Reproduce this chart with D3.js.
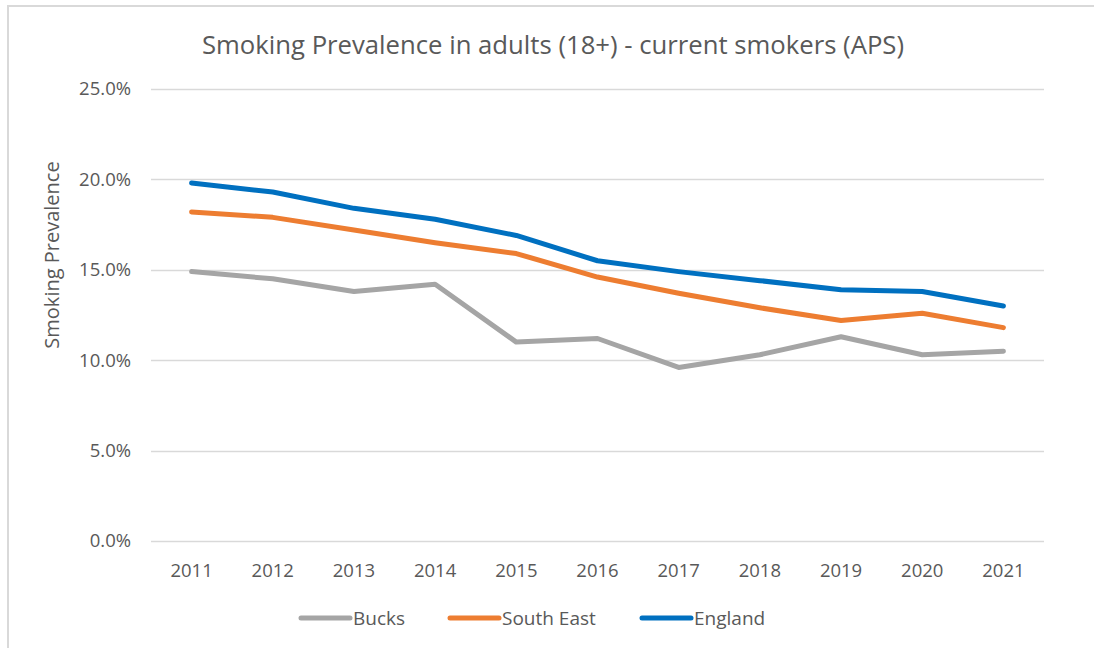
<!DOCTYPE html>
<html>
<head>
<meta charset="utf-8">
<script src="https://cdn.jsdelivr.net/npm/d3@7"></script>
<style>
  html, body { margin: 0; padding: 0; background: #fff; }
  svg { display: block; }
  text { font-family: "Open Sans", "Noto Sans", sans-serif; fill: #595959; }
</style>
</head>
<body>
<svg id="chart" width="1094" height="648"></svg>
<script>
// Smoking prevalence (%) among adults, Annual Population Survey
const years = ["2011","2012","2013","2014","2015","2016","2017","2018","2019","2020","2021"];
const bucks     = [14.9, 14.5, 13.8, 14.2, 11.0, 11.2, 9.6, 10.3, 11.3, 10.3, 10.5];
const southEast = [18.2, 17.9, 17.2, 16.5, 15.9, 14.6, 13.7, 12.9, 12.2, 12.6, 11.8];
const england   = [19.8, 19.3, 18.4, 17.8, 16.9, 15.5, 14.9, 14.4, 13.9, 13.8, 13.0];
const yTicks = [0, 5, 10, 15, 20, 25];

const seriesList = [
  { name: "Bucks", values: bucks, color: "#A5A5A5" },
  { name: "South East", values: southEast, color: "#ED7D31" },
  { name: "England", values: england, color: "#0070C0" }
];

const svg = d3.select("#chart");
const W = 1094, H = 648;
const plot = { left: 151, right: 1044, top: 89, bottom: 541 };

// chart area frame (top and left edges)
svg.append("line")
  .attr("x1", 7).attr("x2", W).attr("y1", 6).attr("y2", 6)
  .attr("stroke", "#d9d9d9").attr("stroke-width", 2);
svg.append("line")
  .attr("x1", 8).attr("x2", 8).attr("y1", 5).attr("y2", H)
  .attr("stroke", "#d9d9d9").attr("stroke-width", 2);

const x = d3.scaleBand().domain(years).range([plot.left, plot.right]).padding(0);
const y = d3.scaleLinear().domain([0, 25]).range([plot.bottom, plot.top]);

// horizontal gridlines
svg.append("g")
  .selectAll("line").data(yTicks).join("line")
  .attr("x1", plot.left).attr("x2", plot.right)
  .attr("y1", d => Math.round(y(d)) + 0.5).attr("y2", d => Math.round(y(d)) + 0.5)
  .attr("stroke", "#d9d9d9").attr("stroke-width", 1.5);

// y tick labels
svg.append("g")
  .selectAll("text").data(yTicks).join("text")
  .attr("x", 131).attr("y", d => y(d))
  .attr("dy", "0.35em").attr("text-anchor", "end")
  .style("font-size", "18.5px")
  .text(d => d3.format(".1f")(d) + "%");

// x tick labels
svg.append("g")
  .selectAll("text").data(years).join("text")
  .attr("x", d => x(d) + x.bandwidth() / 2).attr("y", 571)
  .attr("dy", "0.35em").attr("text-anchor", "middle")
  .style("font-size", "18.5px")
  .text(d => d);

// y axis title
svg.append("text")
  .attr("transform", "translate(52,255) rotate(-90)")
  .attr("text-anchor", "middle").attr("dy", "0.35em")
  .style("font-size", "20px")
  .text("Smoking Prevalence");

// chart title
svg.append("text")
  .attr("x", 553).attr("y", 45)
  .attr("text-anchor", "middle").attr("dy", "0.35em")
  .style("font-size", "25.7px")
  .text("Smoking Prevalence in adults (18+) - current smokers (APS)");

// series lines
const line = d3.line()
  .x((d, i) => x(years[i]) + x.bandwidth() / 2)
  .y(d => y(d));

svg.append("g")
  .selectAll("path").data(seriesList).join("path")
  .attr("d", s => line(s.values))
  .attr("fill", "none")
  .attr("stroke", s => s.color)
  .attr("stroke-width", 5)
  .attr("stroke-linejoin", "round")
  .attr("stroke-linecap", "round");

// legend
const legendX = [299, 448, 640];
const legend = svg.append("g")
  .selectAll("g").data(seriesList).join("g")
  .attr("transform", (s, i) => `translate(${legendX[i]},618)`);
legend.append("line")
  .attr("x1", 2).attr("x2", 51).attr("y1", 0).attr("y2", 0)
  .attr("stroke", s => s.color).attr("stroke-width", 5)
  .attr("stroke-linecap", "round");
legend.append("text")
  .attr("x", 54).attr("y", 0).attr("dy", "0.35em")
  .style("font-size", "19px")
  .text(s => s.name);
</script>
</body>
</html>
